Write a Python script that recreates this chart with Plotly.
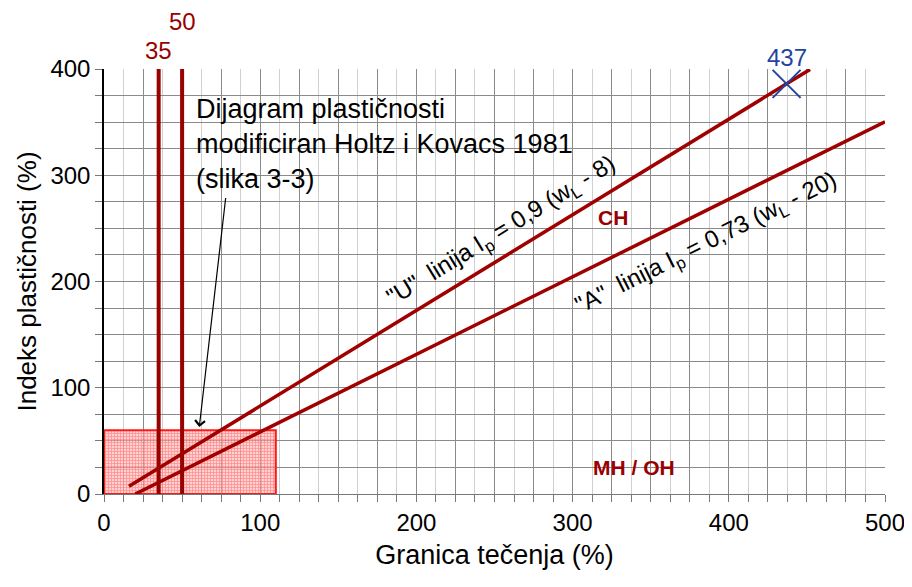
import plotly.graph_objects as go

# ---- data ----
u_line_x = [16, 452]          # "U" line Ip = 0.9 (wL - 8)
u_line_y = [0.9 * (v - 8) for v in u_line_x]
a_line_x = [20, 500]          # "A" line Ip = 0.73 (wL - 20)
a_line_y = [0.73 * (v - 20) for v in a_line_x]
vert_lines = [35, 50]
vert_range = [0, 400]
box_x = [0, 110, 110, 0, 0]
box_y = [0, 0, 60, 60, 0]
point_x = [437]
point_y = [386]
x_tickvals = [i * 25 for i in range(21)]
x_ticktext = [str(v) if v % 100 == 0 else "" for v in x_tickvals]
y_tickvals = [i * 25 for i in range(17)]
y_ticktext = [str(v) if v % 100 == 0 else "" for v in y_tickvals]
Y_MAX = 400

RED = "#A00000"
DRED = "#990000"
BLUE = "#1F45A0"
FONT = "Arial, Liberation Sans, sans-serif"

fig = go.Figure()

fig.add_trace(go.Scatter(
    x=box_x, y=box_y, mode="lines", fill="toself",
    line=dict(color="#FF1A1A", width=2),
    fillcolor="rgba(255,90,90,0.5)",
    fillpattern=dict(shape="+", size=3, solidity=0.45,
                     fgcolor="rgba(255,20,20,0.7)", bgcolor="rgba(255,170,170,0.55)"),
    hoverinfo="skip", showlegend=False))

fig.add_trace(go.Scatter(x=u_line_x, y=u_line_y, mode="lines",
                         line=dict(color=RED, width=3.5), showlegend=False))
fig.add_trace(go.Scatter(x=a_line_x, y=a_line_y, mode="lines",
                         line=dict(color=RED, width=3.5), showlegend=False))
for v in vert_lines:
    fig.add_trace(go.Scatter(x=[v, v], y=vert_range, mode="lines",
                             line=dict(color=DRED, width=4), showlegend=False))

fig.add_trace(go.Scatter(x=point_x, y=point_y, mode="markers",
                         marker=dict(symbol="x-thin-open", size=28, color=BLUE,
                                     line=dict(color=BLUE, width=2)),
                         showlegend=False))

ann = []
ann.append(dict(x=35, y=417 / Y_MAX, yref="paper", yanchor="middle", text="35",
                showarrow=False, font=dict(family=FONT, size=24, color=DRED)))
ann.append(dict(x=50, y=445 / Y_MAX, yref="paper", yanchor="middle", text="50",
                showarrow=False, font=dict(family=FONT, size=24, color=DRED)))
ann.append(dict(x=point_x[0], y=411 / Y_MAX, yref="paper", yanchor="middle",
                text=str(point_x[0]), showarrow=False,
                font=dict(family=FONT, size=24, color=BLUE)))
ann.append(dict(x=57.5, y=378, xanchor="left", yanchor="top", align="left",
                text="Dijagram plastičnosti<br>modificiran Holtz i Kovacs 1981<br>(slika 3-3)",
                showarrow=False, font=dict(family=FONT, size=27, color="black")))
ann.append(dict(x=61, y=63, ax=78, ay=280, axref="x", ayref="y", text="",
                showarrow=True, arrowhead=4, arrowsize=1.6, arrowwidth=1.2,
                arrowcolor="black"))
ann.append(dict(x=254.6, y=247, textangle=-31.6, showarrow=False,
                text="\"U\"\u00a0 linija I<sub>p</sub> = 0,9 (w<sub>L</sub> - 8)",
                font=dict(family=FONT, size=24, color="black")))
ann.append(dict(x=385.8, y=236, textangle=-26.5, showarrow=False,
                text="\"A\"\u00a0 linija I<sub>p</sub> = 0,73 (w<sub>L</sub> - 20)",
                font=dict(family=FONT, size=24, color="black")))
ann.append(dict(x=326, y=260, text="<b>CH</b>", showarrow=False,
                font=dict(family=FONT, size=21, color=DRED)))
ann.append(dict(x=339, y=25, text="<b>MH / OH</b>", showarrow=False,
                font=dict(family=FONT, size=21, color=DRED)))

# page body has an 8px margin, so the figure is offset by 8px
fig.update_layout(
    width=904, height=579,
    margin=dict(l=96, r=27, t=61, b=93, autoexpand=False),
    paper_bgcolor="white", plot_bgcolor="white",
    annotations=ann,
    font=dict(family=FONT, color="black"),
)
fig.update_xaxes(
    range=[0, 500], tickmode="array", tickvals=x_tickvals, ticktext=x_ticktext,
    showgrid=True, gridcolor="#8a8a8a", gridwidth=1,
    ticks="outside", ticklen=7, tickcolor="#777777",
    minor=dict(tick0=12.5, dtick=25, showgrid=True, gridcolor="#d0d0d0",
               ticks="outside", ticklen=7, tickcolor="#777777"),
    showline=True, linecolor="#777777", linewidth=1, zeroline=False,
    tickfont=dict(family=FONT, size=24), automargin=False,
    title=dict(text="Granica tečenja (%)", font=dict(family=FONT, size=27), standoff=10),
)
fig.update_yaxes(
    range=[0, 400], tickmode="array", tickvals=y_tickvals, ticktext=y_ticktext,
    showgrid=True, gridcolor="#8a8a8a", gridwidth=1,
    ticks="outside", ticklen=7, tickcolor="#777777",
    showline=True, linecolor="black", linewidth=1.5, zeroline=False,
    tickfont=dict(family=FONT, size=24), automargin=False,
    title=dict(text="Indeks plastičnosti (%)", font=dict(family=FONT, size=26), standoff=6),
)

fig.write_html("out.html")
